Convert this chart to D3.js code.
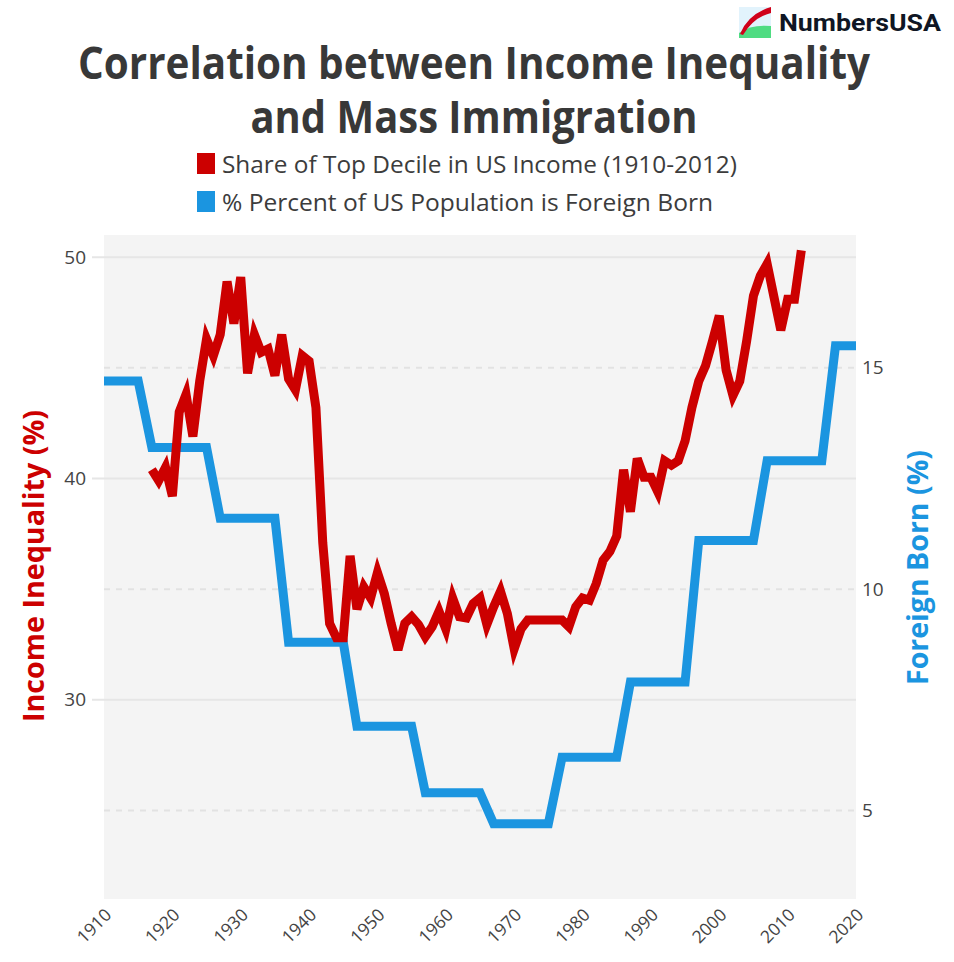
<!DOCTYPE html>
<html>
<head>
<meta charset="utf-8">
<script src="https://cdn.jsdelivr.net/npm/d3@7"></script>
<style>
  body { margin: 0; background: #fff; }
  svg { display: block; }
</style>
</head>
<body>
<div id="chart"></div>
<script>
// Top decile share of US income, 1917-2012
const incomeYears = d3.range(1917, 2013);
const incomeValues = [
  40.4, 39.9, 40.5, 39.2, 43.0, 43.8, 41.9, 44.4, 46.3, 45.55,   // 1917-1926
  46.5, 48.9, 47.0, 49.1, 44.75, 46.5, 45.7, 45.85, 44.65, 46.5, // 1927-1936
  44.5, 44.0, 45.55, 45.3, 43.2, 37.1, 33.45, 32.8, 32.8, 36.5,  // 1937-1946
  34.1, 35.1, 34.6, 35.75, 34.8, 33.45, 32.25, 33.45, 33.75, 33.4, // 1947-1956
  32.85, 33.3, 34.0, 33.2, 34.6, 33.75, 33.7, 34.35, 34.6, 33.4, // 1957-1966
  34.2, 34.9, 33.9, 32.3, 33.2, 33.6, 33.6, 33.6, 33.6, 33.6,    // 1967-1976
  33.6, 33.3, 34.2, 34.6, 34.5, 35.25, 36.3, 36.7, 37.4, 40.4,   // 1977-1986
  38.5, 40.9, 40.05, 40.05, 39.4, 40.8, 40.6, 40.8, 41.7, 43.2,  // 1987-1996
  44.4, 45.1, 46.2, 47.35, 44.9, 43.75, 44.4, 46.2, 48.25, 49.15, // 1997-2006
  49.7, 48.2, 46.7, 48.1, 48.1, 50.3                             // 2007-2012
];

// Foreign born share (corner points of the stepped line)
const foreignYears = [1910, 1915, 1917, 1925, 1927, 1935, 1937, 1945, 1947, 1955, 1957, 1965,
  1967, 1975, 1977, 1985, 1987, 1995, 1997, 2005, 2007, 2015, 2017, 2020];
const foreignValues = [14.7, 14.7, 13.2, 13.2, 11.6, 11.6, 8.8, 8.8, 6.9, 6.9, 5.4, 5.4,
  4.7, 4.7, 6.2, 6.2, 7.9, 7.9, 11.1, 11.1, 12.9, 12.9, 15.5, 15.5];

const xTicks = [1910, 1920, 1930, 1940, 1950, 1960, 1970, 1980, 1990, 2000, 2010, 2020];
const leftTicks = [30, 40, 50];
const rightTicks = [5, 10, 15];

const titleLines = ['Correlation between Income Inequality', 'and Mass Immigration'];
const legendLabels = ['Share of Top Decile in US Income (1910-2012)', '% Percent of US Population is Foreign Born'];

const width = 954;
const height = 962;
const plot = { left: 104, right: 856, top: 235, bottom: 899 };
const RED = '#cc0000';
const BLUE = '#1b95e0';
const TEXT = '#444';

const svg = d3.select('#chart')
  .append('svg')
  .attr('width', width)
  .attr('height', height);

// Scales
const x = d3.scaleLinear().domain([1910, 2020]).range([plot.left, plot.right]);
const yL = d3.scaleLinear().domain([21, 51]).range([plot.bottom, plot.top]);
const yR = d3.scaleLinear().domain([3, 18]).range([plot.bottom, plot.top]);

// Plot background
svg.append('rect')
  .attr('x', plot.left)
  .attr('y', plot.top)
  .attr('width', plot.right - plot.left)
  .attr('height', plot.bottom - plot.top)
  .attr('fill', '#f4f4f4');

// Grid lines: solid for left axis, dashed for right axis
svg.append('g')
  .selectAll('line')
  .data(leftTicks)
  .join('line')
  .attr('x1', plot.left - 12).attr('x2', plot.right)
  .attr('y1', d => yL(d)).attr('y2', d => yL(d))
  .attr('stroke', '#e6e6e6')
  .attr('stroke-width', 2);

svg.append('g')
  .selectAll('line')
  .data(rightTicks)
  .join('line')
  .attr('x1', plot.left).attr('x2', plot.right + 4)
  .attr('y1', d => yR(d)).attr('y2', d => yR(d))
  .attr('stroke', '#e2e2e2')
  .attr('stroke-width', 2)
  .attr('stroke-dasharray', '6,6');

// Lines
const incomeLine = d3.line()
  .x((d, i) => x(incomeYears[i]))
  .y(d => yL(d));

const foreignLine = d3.line()
  .x((d, i) => x(foreignYears[i]))
  .y(d => yR(d));

svg.append('path')
  .datum(foreignValues)
  .attr('d', foreignLine)
  .attr('fill', 'none')
  .attr('stroke', BLUE)
  .attr('stroke-width', 9);

svg.append('path')
  .datum(incomeValues)
  .attr('d', incomeLine)
  .attr('fill', 'none')
  .attr('stroke', RED)
  .attr('stroke-width', 9);

// Left axis
const leftAxis = svg.append('g')
  .attr('transform', `translate(${plot.left - 18},0)`)
  .call(d3.axisLeft(yL).tickValues(leftTicks).tickSize(0).tickPadding(0));
leftAxis.select('.domain').remove();
leftAxis.selectAll('text')
  .attr('fill', TEXT)
  .attr('font-family', 'Open Sans, sans-serif')
  .attr('font-size', '19px');

// Right axis
const rightAxis = svg.append('g')
  .attr('transform', `translate(${plot.right + 6},0)`)
  .call(d3.axisRight(yR).tickValues(rightTicks).tickSize(0).tickPadding(0));
rightAxis.select('.domain').remove();
rightAxis.selectAll('text')
  .attr('fill', TEXT)
  .attr('font-family', 'Open Sans, sans-serif')
  .attr('font-size', '19px');

// Bottom axis, labels turned 45 degrees
const bottomAxis = svg.append('g')
  .attr('transform', `translate(0,${plot.bottom})`)
  .call(d3.axisBottom(x).tickValues(xTicks).tickFormat(d3.format('d')).tickSize(0));
bottomAxis.select('.domain').remove();
bottomAxis.selectAll('text')
  .attr('fill', TEXT)
  .attr('font-family', 'Open Sans, sans-serif')
  .attr('font-size', '17.5px')
  .attr('text-anchor', 'end')
  .attr('dy', 0)
  .attr('y', 0)
  .attr('transform', 'translate(8,17) rotate(-45)');

// Axis titles
svg.append('text')
  .attr('transform', `translate(44,${(410 + 722) / 2}) rotate(-90)`)
  .attr('text-anchor', 'middle')
  .attr('font-family', 'Open Sans, sans-serif')
  .attr('font-weight', 700)
  .attr('font-size', '29px')
  .attr('fill', RED)
  .attr('textLength', 312)
  .attr('lengthAdjust', 'spacingAndGlyphs')
  .text('Income Inequality (%)');

svg.append('text')
  .attr('transform', `translate(928,${(450 + 685) / 2}) rotate(-90)`)
  .attr('text-anchor', 'middle')
  .attr('font-family', 'Open Sans, sans-serif')
  .attr('font-weight', 700)
  .attr('font-size', '29px')
  .attr('fill', BLUE)
  .attr('textLength', 235)
  .attr('lengthAdjust', 'spacingAndGlyphs')
  .text('Foreign Born (%)');

// Title
const titleG = svg.append('g');
titleG.selectAll('text')
  .data(titleLines)
  .join('text')
  .attr('x', 474)
  .attr('y', (d, i) => 79 + i * 54)
  .attr('text-anchor', 'middle')
  .attr('font-family', 'Open Sans, sans-serif')
  .attr('font-weight', 700)
  .attr('font-size', '44px')
  .attr('fill', '#383838')
  .attr('textLength', (d, i) => i === 0 ? 792 : 447)
  .attr('lengthAdjust', 'spacingAndGlyphs')
  .text(d => d);

// Legend
const legendColors = [RED, BLUE];
const legend = svg.append('g');
legend.selectAll('rect')
  .data(legendLabels)
  .join('rect')
  .attr('x', 197)
  .attr('y', (d, i) => 153 + i * 38)
  .attr('width', 18)
  .attr('height', 21)
  .attr('fill', (d, i) => legendColors[i]);

legend.selectAll('text')
  .data(legendLabels)
  .join('text')
  .attr('x', 222)
  .attr('y', (d, i) => 173 + i * 38)
  .attr('font-family', 'Open Sans, sans-serif')
  .attr('font-size', '24px')
  .attr('fill', '#3c3c3c')
  .attr('textLength', (d, i) => i === 0 ? 515 : 491)
  .attr('lengthAdjust', 'spacingAndGlyphs')
  .text(d => d);

// Logo
const logo = svg.append('g').attr('transform', 'translate(739,7)');
logo.append('rect')
  .attr('width', 32).attr('height', 31)
  .attr('fill', '#e2f3fc');
logo.append('path')
  .attr('d', 'M0,31 L0,26 Q12,17 32,19 L32,31 Z')
  .attr('fill', '#4fdc82');
logo.append('path')
  .attr('d', 'M1,27 Q9,7 32,0 L32,6 Q15,10 4,28 Z')
  .attr('fill', '#d0021b');
svg.append('text')
  .attr('x', 779)
  .attr('y', 31)
  .attr('font-family', 'Roboto, sans-serif')
  .attr('font-weight', 700)
  .attr('font-size', '24px')
  .attr('fill', '#0f1624')
  .attr('textLength', 162)
  .attr('lengthAdjust', 'spacingAndGlyphs')
  .text('NumbersUSA');
</script>
</body>
</html>
